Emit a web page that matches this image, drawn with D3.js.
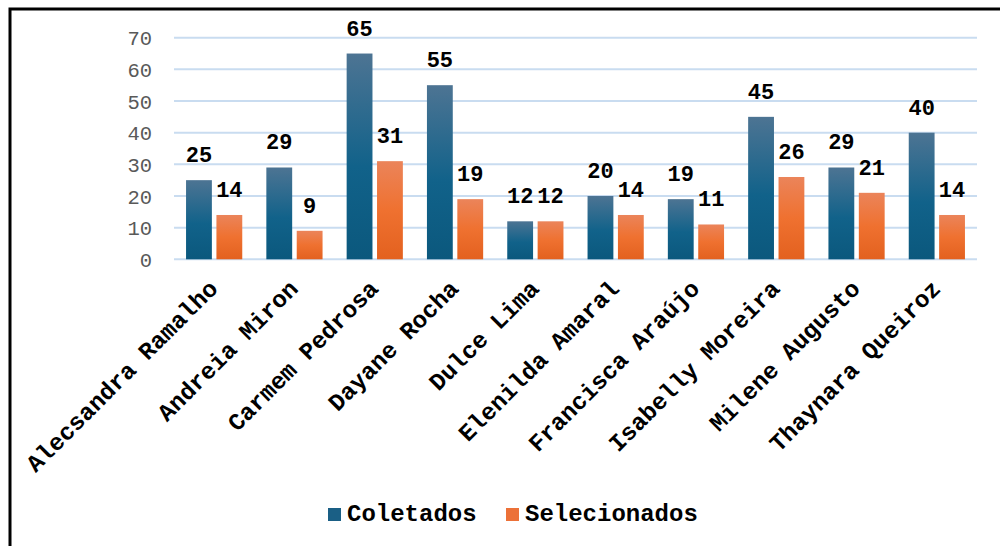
<!DOCTYPE html>
<html>
<head>
<meta charset="utf-8">
<script src="https://cdn.jsdelivr.net/npm/d3@7"></script>
<style>
  html, body { margin: 0; padding: 0; background: #fff; }
  svg { display: block; }
</style>
</head>
<body>
<svg id="chart" width="1000" height="546"></svg>
<script>
// Names shown on the category axis
const categories = [
  "Alecsandra Ramalho", "Andreia Miron", "Carmem Pedrosa", "Dayane Rocha",
  "Dulce Lima", "Elenilda Amaral", "Francisca Araújo", "Isabelly Moreira",
  "Milene Augusto", "Thaynara Queiroz"
];
const seriesNames = ["Coletados", "Selecionados"];
const coletados    = [25, 29, 65, 55, 12, 20, 19, 45, 29, 40];
const selecionados = [14,  9, 31, 19, 12, 14, 11, 26, 21, 14];
const yTicks = [0, 10, 20, 30, 40, 50, 60, 70];

const seriesValues = [coletados, selecionados];
const rows = categories.map((c, i) => ({
  name: c,
  values: seriesNames.map((s, k) => ({ series: s, value: seriesValues[k][i] }))
}));

const svg = d3.select("#chart");
const mono = "'Liberation Mono', 'Courier New', monospace";

// Frame around the chart
svg.append("rect")
  .attr("x", 10).attr("y", 9)
  .attr("width", 1000).attr("height", 600)
  .attr("fill", "#fff")
  .attr("stroke", "#000").attr("stroke-width", 3);

// Vertical gradients for the two series
const defs = svg.append("defs");
const gradBlue = defs.append("linearGradient").attr("id", "g-blue")
  .attr("x1", 0).attr("y1", 0).attr("x2", 0).attr("y2", 1);
gradBlue.append("stop").attr("offset", "0%").attr("stop-color", "#4d7493");
gradBlue.append("stop").attr("offset", "55%").attr("stop-color", "#11628a");
gradBlue.append("stop").attr("offset", "100%").attr("stop-color", "#0b587d");
const gradOrange = defs.append("linearGradient").attr("id", "g-orange")
  .attr("x1", 0).attr("y1", 0).attr("x2", 0).attr("y2", 1);
gradOrange.append("stop").attr("offset", "0%").attr("stop-color", "#eb845a");
gradOrange.append("stop").attr("offset", "50%").attr("stop-color", "#ef7130");
gradOrange.append("stop").attr("offset", "100%").attr("stop-color", "#e3611f");
const fills = { "Coletados": "url(#g-blue)", "Selecionados": "url(#g-orange)" };
const legendFills = { "Coletados": "#1a5f85", "Selecionados": "#ec7138" };

// Scales
const x0 = d3.scaleBand().domain(categories).range([174, 977])
  .paddingInner(0.3).paddingOuter(0.15);
const x1 = d3.scaleBand().domain(seriesNames).range([0, x0.bandwidth()])
  .paddingInner(0.15);
const y = d3.scaleLinear().domain([0, 70]).range([259.3, 37.7]);

// Gridlines
svg.append("g").selectAll("line").data(yTicks).join("line")
  .attr("x1", 174).attr("x2", 977)
  .attr("y1", d => y(d)).attr("y2", d => y(d))
  .attr("stroke", "#c9dcf0").attr("stroke-width", 2);

// Y axis labels
const yAxis = d3.axisLeft(y).tickValues(yTicks).tickSize(0).tickPadding(0);
const yg = svg.append("g").attr("transform", "translate(152,0)").call(yAxis);
yg.select(".domain").remove();
yg.selectAll("text")
  .attr("font-family", mono).attr("font-size", 20.5)
  .attr("fill", "#595959").attr("dy", "0.35em");

// Bars
const groups = svg.append("g").selectAll("g").data(rows).join("g")
  .attr("transform", d => `translate(${x0(d.name)},0)`);
groups.selectAll("rect").data(d => d.values).join("rect")
  .attr("x", d => x1(d.series))
  .attr("width", x1.bandwidth())
  .attr("y", d => y(d.value))
  .attr("height", d => y(0) - y(d.value))
  .attr("fill", d => fills[d.series]);

// Value labels above bars
groups.selectAll("text").data(d => d.values).join("text")
  .attr("x", d => x1(d.series) + x1.bandwidth() / 2)
  .attr("y", d => y(d.value) - 18)
  .attr("text-anchor", "middle")
  .attr("font-family", mono).attr("font-weight", "bold").attr("font-size", 22)
  .attr("fill", "#000")
  .text(d => d.value);

// Rotated category labels
const xAxis = d3.axisBottom(x0).tickSize(0).tickPadding(0);
const xg = svg.append("g").call(xAxis);
xg.select(".domain").remove();
xg.selectAll(".tick").attr("transform", d => `translate(${x0(d) + x0.bandwidth() / 2 + 5},290)`);
xg.selectAll("text")
  .attr("y", 0).attr("dy", 0)
  .attr("transform", "rotate(-45)")
  .attr("text-anchor", "end")
  .attr("font-family", mono).attr("font-weight", "bold").attr("font-size", 24)
  .attr("fill", "#000");

// Legend
const legendX = [328, 506];
const legend = svg.append("g").selectAll("g").data(seriesNames).join("g")
  .attr("transform", (d, i) => `translate(${legendX[i]},508)`);
legend.append("rect").attr("width", 13).attr("height", 13)
  .attr("fill", d => legendFills[d]);
legend.append("text").attr("x", 19).attr("y", 12.5)
  .attr("font-family", mono).attr("font-weight", "bold").attr("font-size", 24)
  .attr("fill", "#000")
  .text(d => d);
</script>
</body>
</html>
